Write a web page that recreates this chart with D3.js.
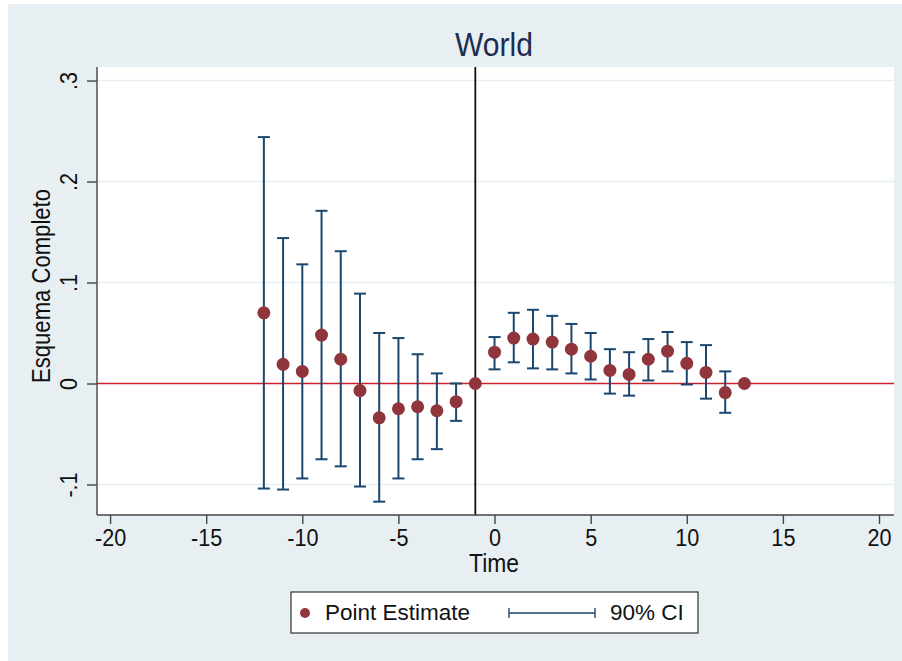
<!DOCTYPE html>
<html>
<head>
<meta charset="utf-8">
<script src="https://cdn.jsdelivr.net/npm/d3@7"></script>
<style>
  html, body { margin: 0; padding: 0; background: #fff; }
  svg { display: block; font-family: "Liberation Sans", Arial, sans-serif; }
</style>
</head>
<body>
<svg id="chart" width="902" height="661"></svg>
<script>
// event-time periods and estimates
const times = [-12, -11, -10, -9, -8, -7, -6, -5, -4, -3, -2, -1,
  0, 1, 2, 3, 4, 5, 6, 7, 8, 9, 10, 11, 12, 13];
const estimates = [0.070, 0.019, 0.012, 0.048, 0.024, -0.007, -0.034, -0.025, -0.023, -0.027, -0.018, 0,
  0.031, 0.045, 0.044, 0.041, 0.034, 0.027, 0.013, 0.009, 0.024, 0.032, 0.020, 0.011, -0.009, 0];
const ciLow = [-0.104, -0.105, -0.094, -0.075, -0.082, -0.102, -0.117, -0.094, -0.075, -0.065, -0.037, null,
  0.014, 0.021, 0.015, 0.014, 0.010, 0.004, -0.010, -0.012, 0.003, 0.012, -0.001, -0.015, -0.029, null];
const ciHigh = [0.244, 0.144, 0.118, 0.171, 0.131, 0.089, 0.050, 0.045, 0.029, 0.010, 0.000, null,
  0.046, 0.070, 0.073, 0.067, 0.059, 0.050, 0.034, 0.031, 0.044, 0.051, 0.041, 0.038, 0.012, null];

const xTicks = [-20, -15, -10, -5, 0, 5, 10, 15, 20];
const yTicks = [-0.1, 0, 0.1, 0.2, 0.3];
const yTickLabels = ['-.1', '0', '.1', '.2', '.3'];
const refTime = -1;

const svg = d3.select('#chart');
const width = 902, height = 661;
const plot = { left: 97, right: 894, top: 67, bottom: 515 };

const navy = '#1a476f';
const maroon = '#90353b';
const bgPanel = '#e8eff2';

// outer graph region
svg.append('rect')
  .attr('x', 8).attr('y', 4)
  .attr('width', width - 8).attr('height', height - 4)
  .attr('fill', bgPanel);

svg.append('rect')
  .attr('x', plot.left).attr('y', plot.top)
  .attr('width', plot.right - plot.left).attr('height', plot.bottom - plot.top)
  .attr('fill', '#ffffff');

const x = d3.scaleLinear().domain([-20.68, 20.78]).range([plot.left, plot.right]);
const y = d3.scaleLinear().domain([-0.1302, 0.3134]).range([plot.bottom, plot.top]);

// grid lines
svg.append('g')
  .selectAll('line')
  .data(yTicks.filter(d => d !== 0))
  .join('line')
  .attr('x1', plot.left).attr('x2', plot.right)
  .attr('y1', d => y(d)).attr('y2', d => y(d))
  .attr('stroke', '#e6f0f2')
  .attr('stroke-width', 1.5);

// zero line and reference line
svg.append('line')
  .attr('x1', plot.left).attr('x2', plot.right)
  .attr('y1', y(0)).attr('y2', y(0))
  .attr('stroke', '#cc2128')
  .attr('stroke-width', 1.7);

svg.append('line')
  .attr('x1', x(refTime)).attr('x2', x(refTime))
  .attr('y1', plot.top).attr('y2', plot.bottom)
  .attr('stroke', '#111')
  .attr('stroke-width', 1.8);

// axes
const xAxis = d3.axisBottom(x).tickValues(xTicks).tickSize(9).tickPadding(5)
  .tickFormat(d => d < 0 ? '-' + Math.abs(d) : String(d));
const gx = svg.append('g')
  .attr('transform', `translate(0,${plot.bottom})`)
  .call(xAxis);
gx.select('.domain').attr('d', `M${plot.left},0H${plot.right}`);
gx.selectAll('.tick text')
  .attr('dy', null).attr('y', 31)
  .attr('transform', 'scale(0.9,1)');

const yAxis = d3.axisLeft(y).tickValues(yTicks).tickSize(10).tickFormat((d, i) => yTickLabels[i]);
const gy = svg.append('g')
  .attr('transform', `translate(${plot.left},0)`)
  .call(yAxis);
gy.select('.domain').attr('d', `M0,${plot.top}V${plot.bottom}`);
gy.selectAll('.tick text')
  .attr('x', null).attr('dy', null)
  .attr('text-anchor', 'middle')
  .attr('transform', 'translate(-20,0) rotate(-90) scale(0.9,1)')
  .attr('y', 0);

[gx, gy].forEach(g => {
  g.select('.domain').attr('stroke', '#444').attr('stroke-width', 1.4);
  g.selectAll('.tick line').attr('stroke', '#444').attr('stroke-width', 1.4);
  g.selectAll('.tick text')
    .attr('fill', '#111')
    .attr('font-size', 24)
    .attr('font-family', '"Liberation Sans", Arial, sans-serif');
});

// confidence intervals
const rows = times.map((t, i) => ({ t, est: estimates[i], lo: ciLow[i], hi: ciHigh[i] }));
const ciRows = rows.filter(d => d.lo !== null);
const capHalf = 6;

const ci = svg.append('g').attr('stroke', navy).attr('stroke-width', 2);
ci.selectAll('line.stem')
  .data(ciRows)
  .join('line')
  .attr('class', 'stem')
  .attr('x1', d => x(d.t)).attr('x2', d => x(d.t))
  .attr('y1', d => y(d.lo)).attr('y2', d => y(d.hi));
ci.selectAll('line.capHi')
  .data(ciRows)
  .join('line')
  .attr('class', 'capHi')
  .attr('x1', d => x(d.t) - capHalf).attr('x2', d => x(d.t) + capHalf)
  .attr('y1', d => y(d.hi)).attr('y2', d => y(d.hi));
ci.selectAll('line.capLo')
  .data(ciRows)
  .join('line')
  .attr('class', 'capLo')
  .attr('x1', d => x(d.t) - capHalf).attr('x2', d => x(d.t) + capHalf)
  .attr('y1', d => y(d.lo)).attr('y2', d => y(d.lo));

// point estimates
svg.append('g')
  .selectAll('circle')
  .data(rows)
  .join('circle')
  .attr('cx', d => x(d.t))
  .attr('cy', d => y(d.est))
  .attr('r', 6.5)
  .attr('fill', maroon);

// titles
svg.append('text')
  .attr('x', 494)
  .attr('y', 56)
  .attr('text-anchor', 'middle')
  .attr('font-size', 34)
  .attr('textLength', 78)
  .attr('lengthAdjust', 'spacingAndGlyphs')
  .attr('fill', '#1e2d4f')
  .text('World');

svg.append('text')
  .attr('x', 494)
  .attr('y', 572)
  .attr('text-anchor', 'middle')
  .attr('font-size', 25)
  .attr('textLength', 50)
  .attr('lengthAdjust', 'spacingAndGlyphs')
  .attr('fill', '#111')
  .text('Time');

svg.append('text')
  .attr('transform', `translate(50,286) rotate(-90)`)
  .attr('text-anchor', 'middle')
  .attr('font-size', 25)
  .attr('textLength', 194)
  .attr('lengthAdjust', 'spacingAndGlyphs')
  .attr('fill', '#111')
  .text('Esquema Completo');

// legend
const legend = svg.append('g').attr('transform', 'translate(291,592)');
legend.append('rect')
  .attr('width', 407).attr('height', 41)
  .attr('fill', '#fff')
  .attr('stroke', '#333')
  .attr('stroke-width', 1.2);
legend.append('circle')
  .attr('cx', 14).attr('cy', 21).attr('r', 5)
  .attr('fill', maroon);
legend.append('text')
  .attr('x', 34).attr('y', 28)
  .attr('font-size', 22.5).attr('fill', '#111')
  .text('Point Estimate');
const lg = legend.append('g').attr('stroke', navy).attr('stroke-width', 1.4);
lg.append('line').attr('x1', 218).attr('x2', 304).attr('y1', 21).attr('y2', 21);
lg.append('line').attr('x1', 218).attr('x2', 218).attr('y1', 16).attr('y2', 26);
lg.append('line').attr('x1', 304).attr('x2', 304).attr('y1', 16).attr('y2', 26);
legend.append('text')
  .attr('x', 319).attr('y', 28)
  .attr('font-size', 22.5).attr('fill', '#111')
  .text('90% CI');
</script>
</body>
</html>
